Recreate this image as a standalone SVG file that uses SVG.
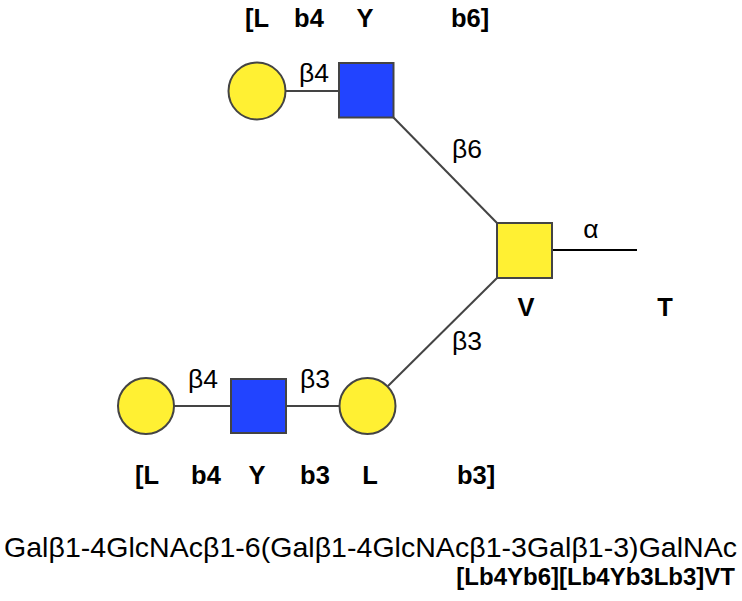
<svg xmlns="http://www.w3.org/2000/svg" width="742" height="601" viewBox="0 0 742 601">
<style>
.gal{fill:#FFF033;stroke:#444;stroke-width:2}
.glc{fill:#2244FF;stroke:#444;stroke-width:2}
.link{stroke:#444;stroke-width:2;fill:none}
.lbl{font-family:"Liberation Sans",Arial,sans-serif;font-size:26.5px;fill:#000;text-anchor:middle}
.code{font-family:"Liberation Sans",Arial,sans-serif;font-size:25.5px;font-weight:bold;fill:#000;text-anchor:middle}
.iupac{font-family:"Liberation Sans",Arial,sans-serif;font-size:28.5px;fill:#000}
.iupacb{font-family:"Liberation Sans",Arial,sans-serif;font-size:24px;font-weight:bold;fill:#000;text-anchor:end}
</style>
<rect width="742" height="601" fill="#fff"/>
<g id="connectors">
<line class="link" x1="286" y1="91" x2="339" y2="91"/>
<line class="link" x1="393" y1="117" x2="497" y2="223"/>
<line class="link" x1="497" y1="278" x2="388" y2="386"/>
<line class="link" x1="174" y1="406" x2="231" y2="406"/>
<line class="link" x1="286" y1="406" x2="339" y2="406"/>
<line x1="552" y1="250" x2="637" y2="250" stroke="#000" stroke-width="2"/>
<text class="lbl" x="314" y="82">β4</text>
<text class="lbl" x="467" y="158">β6</text>
<text class="lbl" x="591" y="238">α</text>
<text class="lbl" x="467" y="350">β3</text>
<text class="lbl" x="203" y="388">β4</text>
<text class="lbl" x="315" y="388">β3</text>
</g>
<g id="node-gal-top"><circle class="gal" cx="257" cy="91" r="28.5"/></g>
<g id="node-glcnac-top"><rect class="glc" x="339" y="63" width="54.5" height="54.5"/></g>
<g id="node-galnac"><rect class="gal" x="497" y="223" width="55" height="55"/></g>
<g id="node-gal-left"><circle class="gal" cx="146" cy="406" r="28"/></g>
<g id="node-glcnac-bottom"><rect class="glc" x="231" y="379" width="55" height="54"/></g>
<g id="node-gal-right"><circle class="gal" cx="367.5" cy="406" r="28"/></g>
<g id="codes">
<text class="code" x="257" y="27">[L</text>
<text class="code" x="309" y="27">b4</text>
<text class="code" x="365" y="27">Y</text>
<text class="code" x="470" y="27">b6]</text>
<text class="code" x="526" y="316">V</text>
<text class="code" x="665" y="316">T</text>
<text class="code" x="147" y="484">[L</text>
<text class="code" x="206" y="484">b4</text>
<text class="code" x="257" y="484">Y</text>
<text class="code" x="315" y="484">b3</text>
<text class="code" x="370" y="484">L</text>
<text class="code" x="476" y="484">b3]</text>
</g>
<text class="iupac" x="4" y="557" textLength="733" lengthAdjust="spacing">Galβ1-4GlcNAcβ1-6(Galβ1-4GlcNAcβ1-3Galβ1-3)GalNAc</text>
<text class="iupacb" x="735" y="585">[Lb4Yb6][Lb4Yb3Lb3]VT</text>
</svg>
